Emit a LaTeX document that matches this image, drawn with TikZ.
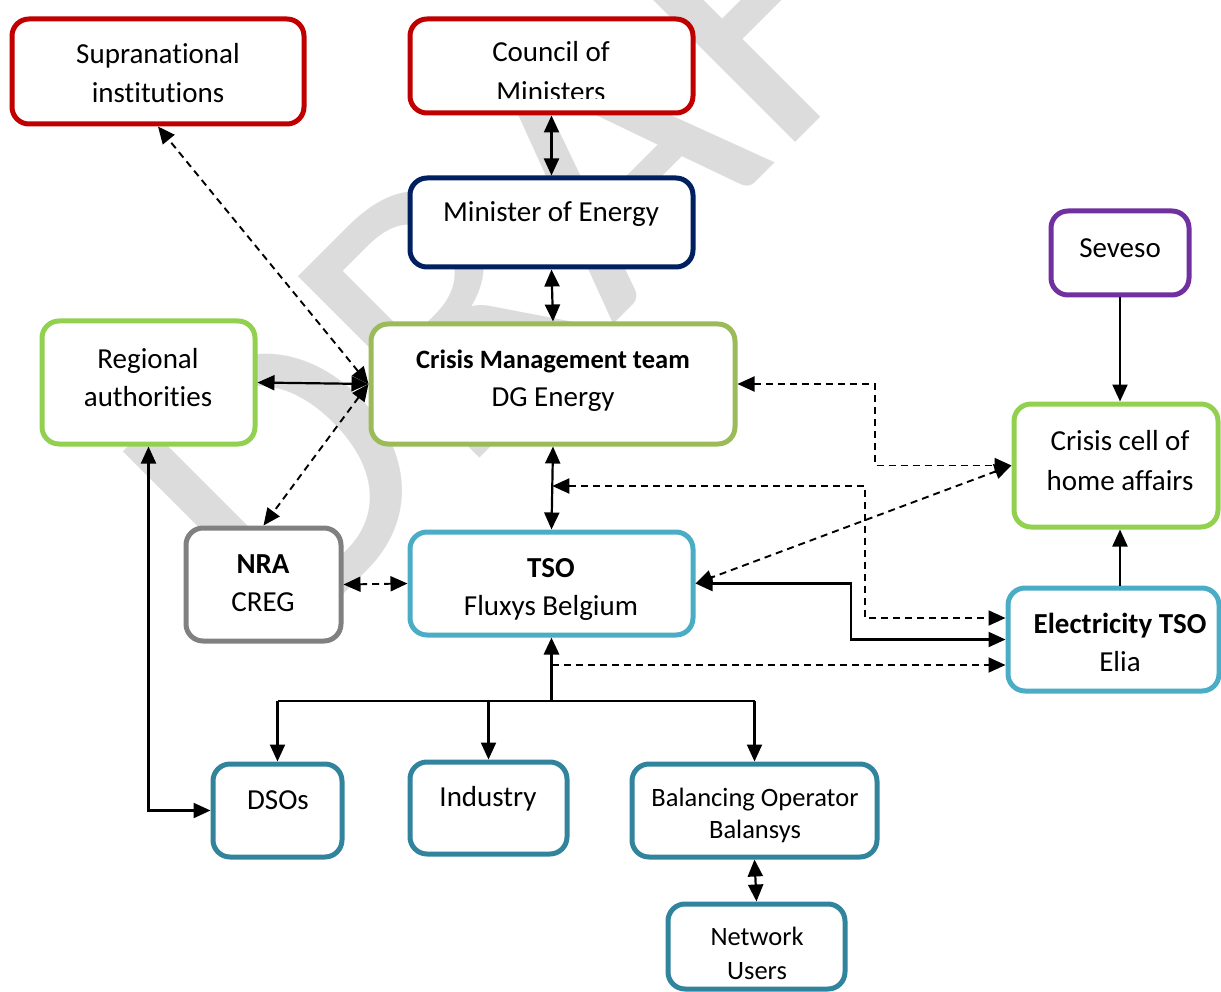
\documentclass[tikz,border=0pt]{standalone}
\usepackage{fontspec}
\setmainfont{Carlito}[Ligatures={NoCommon}]
\newfontfamily\wmfont{Carlito}
\usetikzlibrary{arrows.meta}
\definecolor{cRed}{HTML}{C00000}
\definecolor{cNavy}{HTML}{002060}
\definecolor{cOlive}{HTML}{9BBB59}
\definecolor{cLime}{HTML}{92D050}
\definecolor{cPurple}{HTML}{7030A0}
\definecolor{cGray}{HTML}{808080}
\definecolor{cBlue}{HTML}{4BACC6}
\definecolor{cTeal}{HTML}{31849B}
\definecolor{cWm}{HTML}{DCDCDC}
\tikzset{
  box/.style={draw=#1, line width=5pt, rounded corners=17pt, fill=white, inner sep=0pt},
  lbl/.style={anchor=base, inner sep=0pt, font=\fontsize{29}{35}\selectfont},
  lblb/.style={anchor=base, inner sep=0pt, font=\fontsize{29}{35}\selectfont\bfseries},
  lbls/.style={anchor=base, inner sep=0pt, font=\fontsize{26.5}{32}\selectfont},
  lblbs/.style={anchor=base, inner sep=0pt, font=\fontsize{26.5}{32}\selectfont\bfseries},
  conn/.style={line width=2.2pt, draw=black},
  dconn/.style={line width=1.9pt, draw=black, dash pattern=on 7pt off 5pt},
  >={Triangle[length=17pt,width=15pt]},
}
\begin{document}
\begin{tikzpicture}[x=1pt,y=-1pt]
\useasboundingbox (0,0) rectangle (1221,992);
\clip (0,0) rectangle (1221,992);
% watermark
\node[rotate=45, anchor=base west, inner sep=0pt, text=cWm, font=\wmfont\fontsize{400}{400}\selectfont] (wm) at (285,653) {DRAFT};

% boxes
\node[box=cRed, minimum width=292pt, minimum height=105pt] (sup) at (158,71.5) {};
\node[box=cRed, minimum width=283pt, minimum height=94pt] (council) at (551.5,66) {};
\node[box=cNavy, minimum width=283pt, minimum height=89pt] (minister) at (551.5,222.5) {};
\node[box=cOlive, minimum width=364pt, minimum height=120pt] (cmt) at (553,384) {};
\node[box=cLime, minimum width=213pt, minimum height=123pt] (reg) at (148.5,382.5) {};
\node[box=cPurple, minimum width=138pt, minimum height=84pt] (sev) at (1120,253) {};
\node[box=cLime, minimum width=204pt, minimum height=123pt] (cell) at (1116,465.5) {};
\node[box=cGray, minimum width=155pt, minimum height=113pt] (nra) at (263.5,584.5) {};
\node[box=cBlue, minimum width=283pt, minimum height=103pt] (tso) at (551.5,583.5) {};
\node[box=cBlue, minimum width=211pt, minimum height=103pt] (elec) at (1113.5,639.5) {};
\node[box=cTeal, minimum width=129pt, minimum height=93pt] (dso) at (277.5,810.5) {};
\node[box=cTeal, minimum width=157pt, minimum height=92pt] (ind) at (488.5,808) {};
\node[box=cTeal, minimum width=245pt, minimum height=93pt] (bal) at (754.5,810.5) {};
\node[box=cTeal, minimum width=177pt, minimum height=85pt] (net) at (756.5,946.5) {};

% labels
\node[lbl] (supA) at (158,64) {Supranational};
\node[lbl] (supB) at (158,103) {institutions};
\node[lbl] (couA) at (551,62) {Council of};
\begin{scope}
\clip (410,19) rectangle (693,98.5);
\node[lbl] (couB) at (551,102) {Ministers};
\end{scope}
\node[lbl] (minA) at (551,222) {Minister of Energy};
\node[lblbs] (cmtA) at (553,368.5) {Crisis Management team};
\node[lbl] (cmtB) at (553,406) {DG Energy};
\node[lbl] (regA) at (148,368) {Regional};
\node[lbl] (regB) at (148,406) {authorities};
\node[lbl] (sevA) at (1120,258) {Seveso};
\node[lbl] (cellA) at (1120,450) {Crisis cell of};
\node[lbl] (cellB) at (1120,490) {home affairs};
\node[lblb] (nraA) at (263,573) {NRA};
\node[lbl] (nraB) at (263,611) {CREG};
\node[lblb] (tsoA) at (551,577) {TSO};
\node[lbl] (tsoB) at (551,615) {Fluxys Belgium};
\node[lblb] (elecA) at (1120,633) {Electricity TSO};
\node[lbl] (elecB) at (1120,671) {Elia};
\node[lbl] (dsoA) at (278,809) {DSOs};
\node[lbl] (indA) at (488,806) {Industry};
\node[lbls] (balA) at (755,806.5) {Balancing Operator};
\node[lbls] (balB) at (755,838.5) {Balansys};
\node[lbls] (netA) at (757,945.5) {Network};
\node[lbls] (netB) at (757,979.5) {Users};

% connectors
\draw[conn,<->] (council.south) -- (minister.north);
\draw[conn,<->] (minister.south) -- (cmt.north);
\draw[conn,<->] (cmt.south) -- (tso.north);
\draw[conn,<->] (reg.east) -- (cmt.west);
\draw[dconn,<->] (cmt.west) -- (sup.south);
\draw[dconn,<->] (cmt.west) -- (nra.north);
\draw[dconn,<->] (nra.east) -- (tso.west);
\draw[dconn,<->] (cmt.east) -- (875,384) -- (875,465.5) -- (cell.west);
\draw[dconn,<->] (cell.west) -- (tso.east);
\coordinate (j1) at (552.3,486);
\draw[dconn,<->] (j1) -- (865,486) -- (865,618) -- ([yshift=21.5pt]elec.west);
\draw[conn,<->] (tso.east) -- (851,583.5) -- (851,639.5) -- (elec.west);
\coordinate (j2) at (551.5,665);
\draw[dconn,->] (j2) -- ([yshift=-25.5pt]elec.west);
\draw[conn,->] (sev.south) -- (sev.south |- cell.north);
\draw[conn,->] (sev.south |- elec.north) -- (sev.south |- cell.south);
\coordinate (jt) at (551.5,701);
\draw[conn,line width=3pt,->] (jt) -- (tso.south);
\draw[conn] (dso.north |- jt) -- (bal.north |- jt);
\draw[conn,->] (dso.north |- jt) -- (dso.north);
\draw[conn,->] (ind.north |- jt) -- (ind.north);
\draw[conn,->] (bal.north |- jt) -- (bal.north);
\draw[conn,<->] (bal.south) -- (net.north);
\draw[conn,<->] (reg.south) |- (dso.west);
\end{tikzpicture}
\end{document}
